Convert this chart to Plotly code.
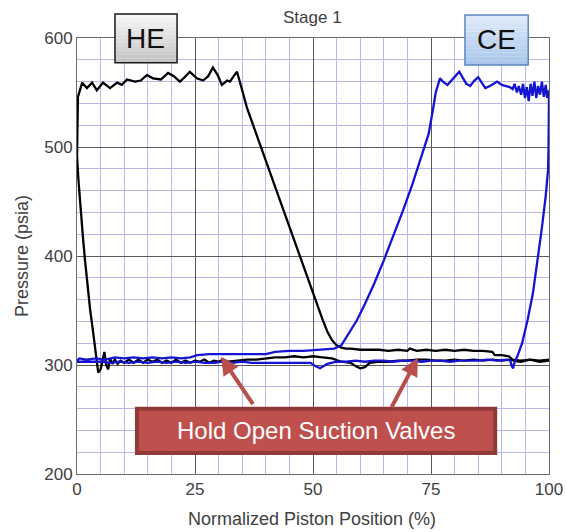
import plotly.graph_objects as go

# ---------------- data ----------------
# Head End (black) cycle, split in segments
he_comp_x = [100, 98, 96, 94, 92.5, 91.5, 90, 88.5, 88, 86, 84, 82, 80, 78, 76, 74, 72, 70.5, 70, 68, 66, 64, 62, 60, 58, 57, 56]
he_comp_p = [304, 303, 305, 303, 304, 308, 309, 309, 312, 313, 313, 314, 313, 314, 313, 314, 313, 315, 313, 314, 313, 314, 314, 314, 315, 315, 316]
he_rise_x = [55, 54, 53, 52, 50, 48, 46, 44, 42, 40, 38, 36, 35, 33.9]
he_rise_p = [318, 323, 331, 342, 366, 390, 414, 438, 462, 486, 510, 536, 552, 569]
he_disch_x = [33.2, 32.4, 31.8, 30.7, 29.8, 28.8, 27.8, 26.7, 25.4, 23.9, 22.8, 21.8, 20.5, 19.3, 17.8, 16.1, 14.8, 13.5, 12.3, 10.6, 9.5, 8.5, 7.0, 5.5, 4.2, 3.2, 2.1, 1.1, 0.2]
he_disch_p = [565, 560, 561, 557, 566, 573, 565, 561, 563, 569, 564, 560, 565, 568, 562, 563, 566, 561, 560, 562, 557, 559, 554, 559, 552, 559, 554, 559, 546]
he_exp_x = [0.05, 0.0, 0.3, 0.8, 1.3, 1.7, 2.2, 2.8, 3.3, 3.8, 4.2, 4.5]
he_exp_p = [520, 492, 470, 440, 415, 396, 372, 350, 334, 315, 300, 293]
he_suct_x = [5.0, 5.4, 5.8, 6.2, 6.6, 7.0, 7.5, 8.0, 8.6, 9.2,
             10, 11, 12, 13, 14, 15, 16, 17, 18, 19, 20, 21, 22, 23, 24, 25, 26, 27, 28, 29, 30, 31, 32,
             34, 36, 38, 40, 42, 44, 46, 48, 50, 52, 54, 56, 58,
             59, 60, 61,
             62, 64, 66, 68, 70, 72, 74, 76, 78, 80, 82, 84, 86, 88, 90, 92, 94, 96, 98, 100]
he_suct_p = [296, 305, 312, 300, 296, 306, 301, 305, 301, 304,
             302, 305, 302, 305, 302, 305, 303, 305, 302, 304, 302, 305, 302, 304, 302, 304, 303, 305, 302, 304, 303, 305, 303,
             304, 305, 305, 306, 307, 307, 308, 307, 308, 307, 306, 303, 302,
             299, 297, 298,
             302, 303, 303, 304, 304, 305, 305, 304, 304, 305, 304, 305, 304, 305, 304, 305, 304, 305, 304, 305]

# Crank End (blue) cycle, split in segments
ce_comp_x = [0, 0.5, 2, 4, 6, 8, 10, 12, 14, 16, 18, 20, 22, 24, 25.5, 28, 32, 36, 40, 42, 45, 48, 51, 53, 54.5]
ce_comp_p = [304, 306, 305, 306, 305, 307, 306, 307, 306, 307, 306, 307, 306, 307, 309, 310, 310, 310, 310, 312, 313, 313, 314, 314, 315]
ce_rise_x = [56, 57.5, 59.3, 61, 63, 65, 67, 69, 71, 73, 74.5, 75.4, 76, 76.9]
ce_rise_p = [318, 328, 341, 356, 375, 396, 418, 441, 465, 491, 512, 534, 550, 563]
ce_disch_x = [77.5, 78.5, 79.5, 80.3, 81, 81.8, 82.5, 83.3, 84.2, 85,
              85.8, 86.5, 87.5, 88.5, 89, 90, 91, 91.7, 92.3, 92.7,
              93.2, 93.6, 94.1, 94.5, 94.9, 95.3, 95.7, 96.1, 96.5, 96.9,
              97.3, 97.7, 98.1, 98.5, 98.9, 99.3, 99.6, 99.9, 100]
ce_disch_p = [560, 557, 562, 566, 569, 563, 558, 556, 561, 564,
              559, 554, 556, 559, 560, 557, 556, 555, 553, 558,
              550, 556, 548, 558, 545, 555, 542, 558, 547, 560,
              545, 556, 548, 560, 546, 557, 545, 552, 548]
ce_exp_x = [100, 99.9, 99.8, 99.3, 98.5, 97.6, 96.6, 95.5, 94.3, 93.3, 92.6, 92.4]
ce_exp_p = [540, 500, 479, 455, 426, 396, 366, 342, 320, 308, 301, 297]
ce_suct_x = [92.1, 91.8, 91, 89, 87, 85, 83, 81, 79, 77,
             75, 73, 71, 69, 67, 65, 63, 61, 59, 57,
             55, 53, 51.5, 50.5, 49.5, 47, 45, 43, 41, 39,
             37, 35, 33, 31, 29, 27, 25, 23, 21, 19,
             17, 15, 13, 11, 9, 7, 5, 3, 1, 0]
ce_suct_p = [299, 304, 305, 304, 305, 304, 304, 304, 303, 304,
             304, 303, 304, 304, 303, 304, 304, 303, 304, 303,
             303, 301, 297, 299, 302, 302, 302, 302, 302, 302,
             302, 303, 302, 303, 302, 302, 303, 302, 303, 302,
             303, 302, 303, 302, 303, 302, 303, 303, 303, 303]

x_ticks = [0, 25, 50, 75, 100]
y_ticks = [200, 300, 400, 500, 600]

he_x = he_comp_x + he_rise_x + he_disch_x + he_exp_x + he_suct_x
he_p = he_comp_p + he_rise_p + he_disch_p + he_exp_p + he_suct_p
ce_x = ce_comp_x + ce_rise_x + ce_disch_x + ce_exp_x + ce_suct_x
ce_p = ce_comp_p + ce_rise_p + ce_disch_p + ce_exp_p + ce_suct_p

FONT = "Liberation Sans, Arial, sans-serif"
TXT = "#404040"

fig = go.Figure()
fig.add_trace(go.Scatter(x=he_x, y=he_p, mode="lines", name="HE",
                         line=dict(color="#000000", width=2.3)))
fig.add_trace(go.Scatter(x=ce_x, y=ce_p, mode="lines", name="CE",
                         line=dict(color="#1414d2", width=2.3)))

axis_common = dict(
    showgrid=True, gridcolor="#5a5a5a", gridwidth=1,
    showline=True, linecolor="#6a6a6a", linewidth=1, mirror=True,
    zeroline=False, ticks="", automargin=False,
    tickfont=dict(family=FONT, size=17, color=TXT),
)
fig.update_xaxes(range=[0, 100], tickvals=x_ticks,
                 minor=dict(dtick=5, showgrid=True, gridcolor="#b8b8ee", gridwidth=1),
                 **axis_common)
fig.update_yaxes(range=[200, 600], tickvals=y_ticks,
                 minor=dict(dtick=20, showgrid=True, gridcolor="#b8b8ee", gridwidth=1),
                 **axis_common)


def gradient_box(x0, x1, y0, y1, top_rgb, bot_rgb, border, n=12):
    out = []
    h = (y1 - y0) / n
    for i in range(n):
        t = i / (n - 1)
        c = tuple(int(round(top_rgb[k] + (bot_rgb[k] - top_rgb[k]) * t)) for k in range(3))
        out.append(dict(type="rect", xref="paper", yref="paper", x0=x0, x1=x1,
                        y0=y1 - (i + 1) * h, y1=y1 - i * h,
                        fillcolor="rgb(%d,%d,%d)" % c, line=dict(width=0), layer="above"))
    out.append(dict(type="rect", xref="paper", yref="paper", x0=x0, x1=x1, y0=y0, y1=y1,
                    line=dict(color=border, width=1.5), layer="above"))
    return out


shapes = []
shapes += gradient_box(0.0805, 0.212, 0.943, 1.055, (246, 246, 246), (196, 196, 196), "#1a1a1a")
shapes += gradient_box(0.822, 0.956, 0.938, 1.053, (222, 234, 249), (170, 198, 236), "#5b86bf")
shapes.append(dict(type="rect", xref="x", yref="y", x0=12.7, x1=88.6, y0=219.3, y1=259.8,
                   fillcolor="#c0504d", line=dict(color="#8e3b39", width=4), layer="above"))

C = dict(xanchor="center", yanchor="middle", showarrow=False)
annotations = [
    dict(text="Stage 1", xref="paper", yref="paper", x=0.498, y=1.046,
         font=dict(family=FONT, size=17, color=TXT), **C),
    dict(text="Normalized Piston Position (%)", xref="paper", yref="paper", x=0.498, y=-0.103,
         font=dict(family=FONT, size=18, color=TXT), **C),
    dict(text="Pressure (psia)", xref="paper", yref="paper", x=-0.1165, y=0.5, textangle=-90,
         font=dict(family=FONT, size=18, color=TXT), **C),
    dict(text="HE", xref="paper", yref="paper", x=0.146, y=0.999,
         font=dict(family=FONT, size=28, color="#111111"), **C),
    dict(text="CE", xref="paper", yref="paper", x=0.889, y=0.996,
         font=dict(family=FONT, size=28, color="#111111"), **C),
    dict(text="Hold Open Suction Valves", xref="x", yref="y", x=50.6, y=239.6,
         font=dict(family=FONT, size=24, color="#ffffff"), **C),
    dict(text="", xref="x", yref="y", x=30.5, y=307.6, ax=33, ay=49,
         showarrow=True, arrowhead=2, arrowsize=0.9, arrowwidth=4, arrowcolor="#b94f4b", standoff=0),
    dict(text="", xref="x", yref="y", x=72.2, y=306.7, ax=-27, ay=51,
         showarrow=True, arrowhead=2, arrowsize=0.9, arrowwidth=4, arrowcolor="#b94f4b", standoff=0),
]

fig.update_layout(
    width=566, height=532,
    margin=dict(l=77, r=17, t=38, b=58, autoexpand=False),
    paper_bgcolor="white", plot_bgcolor="white",
    showlegend=False,
    shapes=shapes, annotations=annotations,
    font=dict(family=FONT, color=TXT),
)

fig.write_html("out.html")
